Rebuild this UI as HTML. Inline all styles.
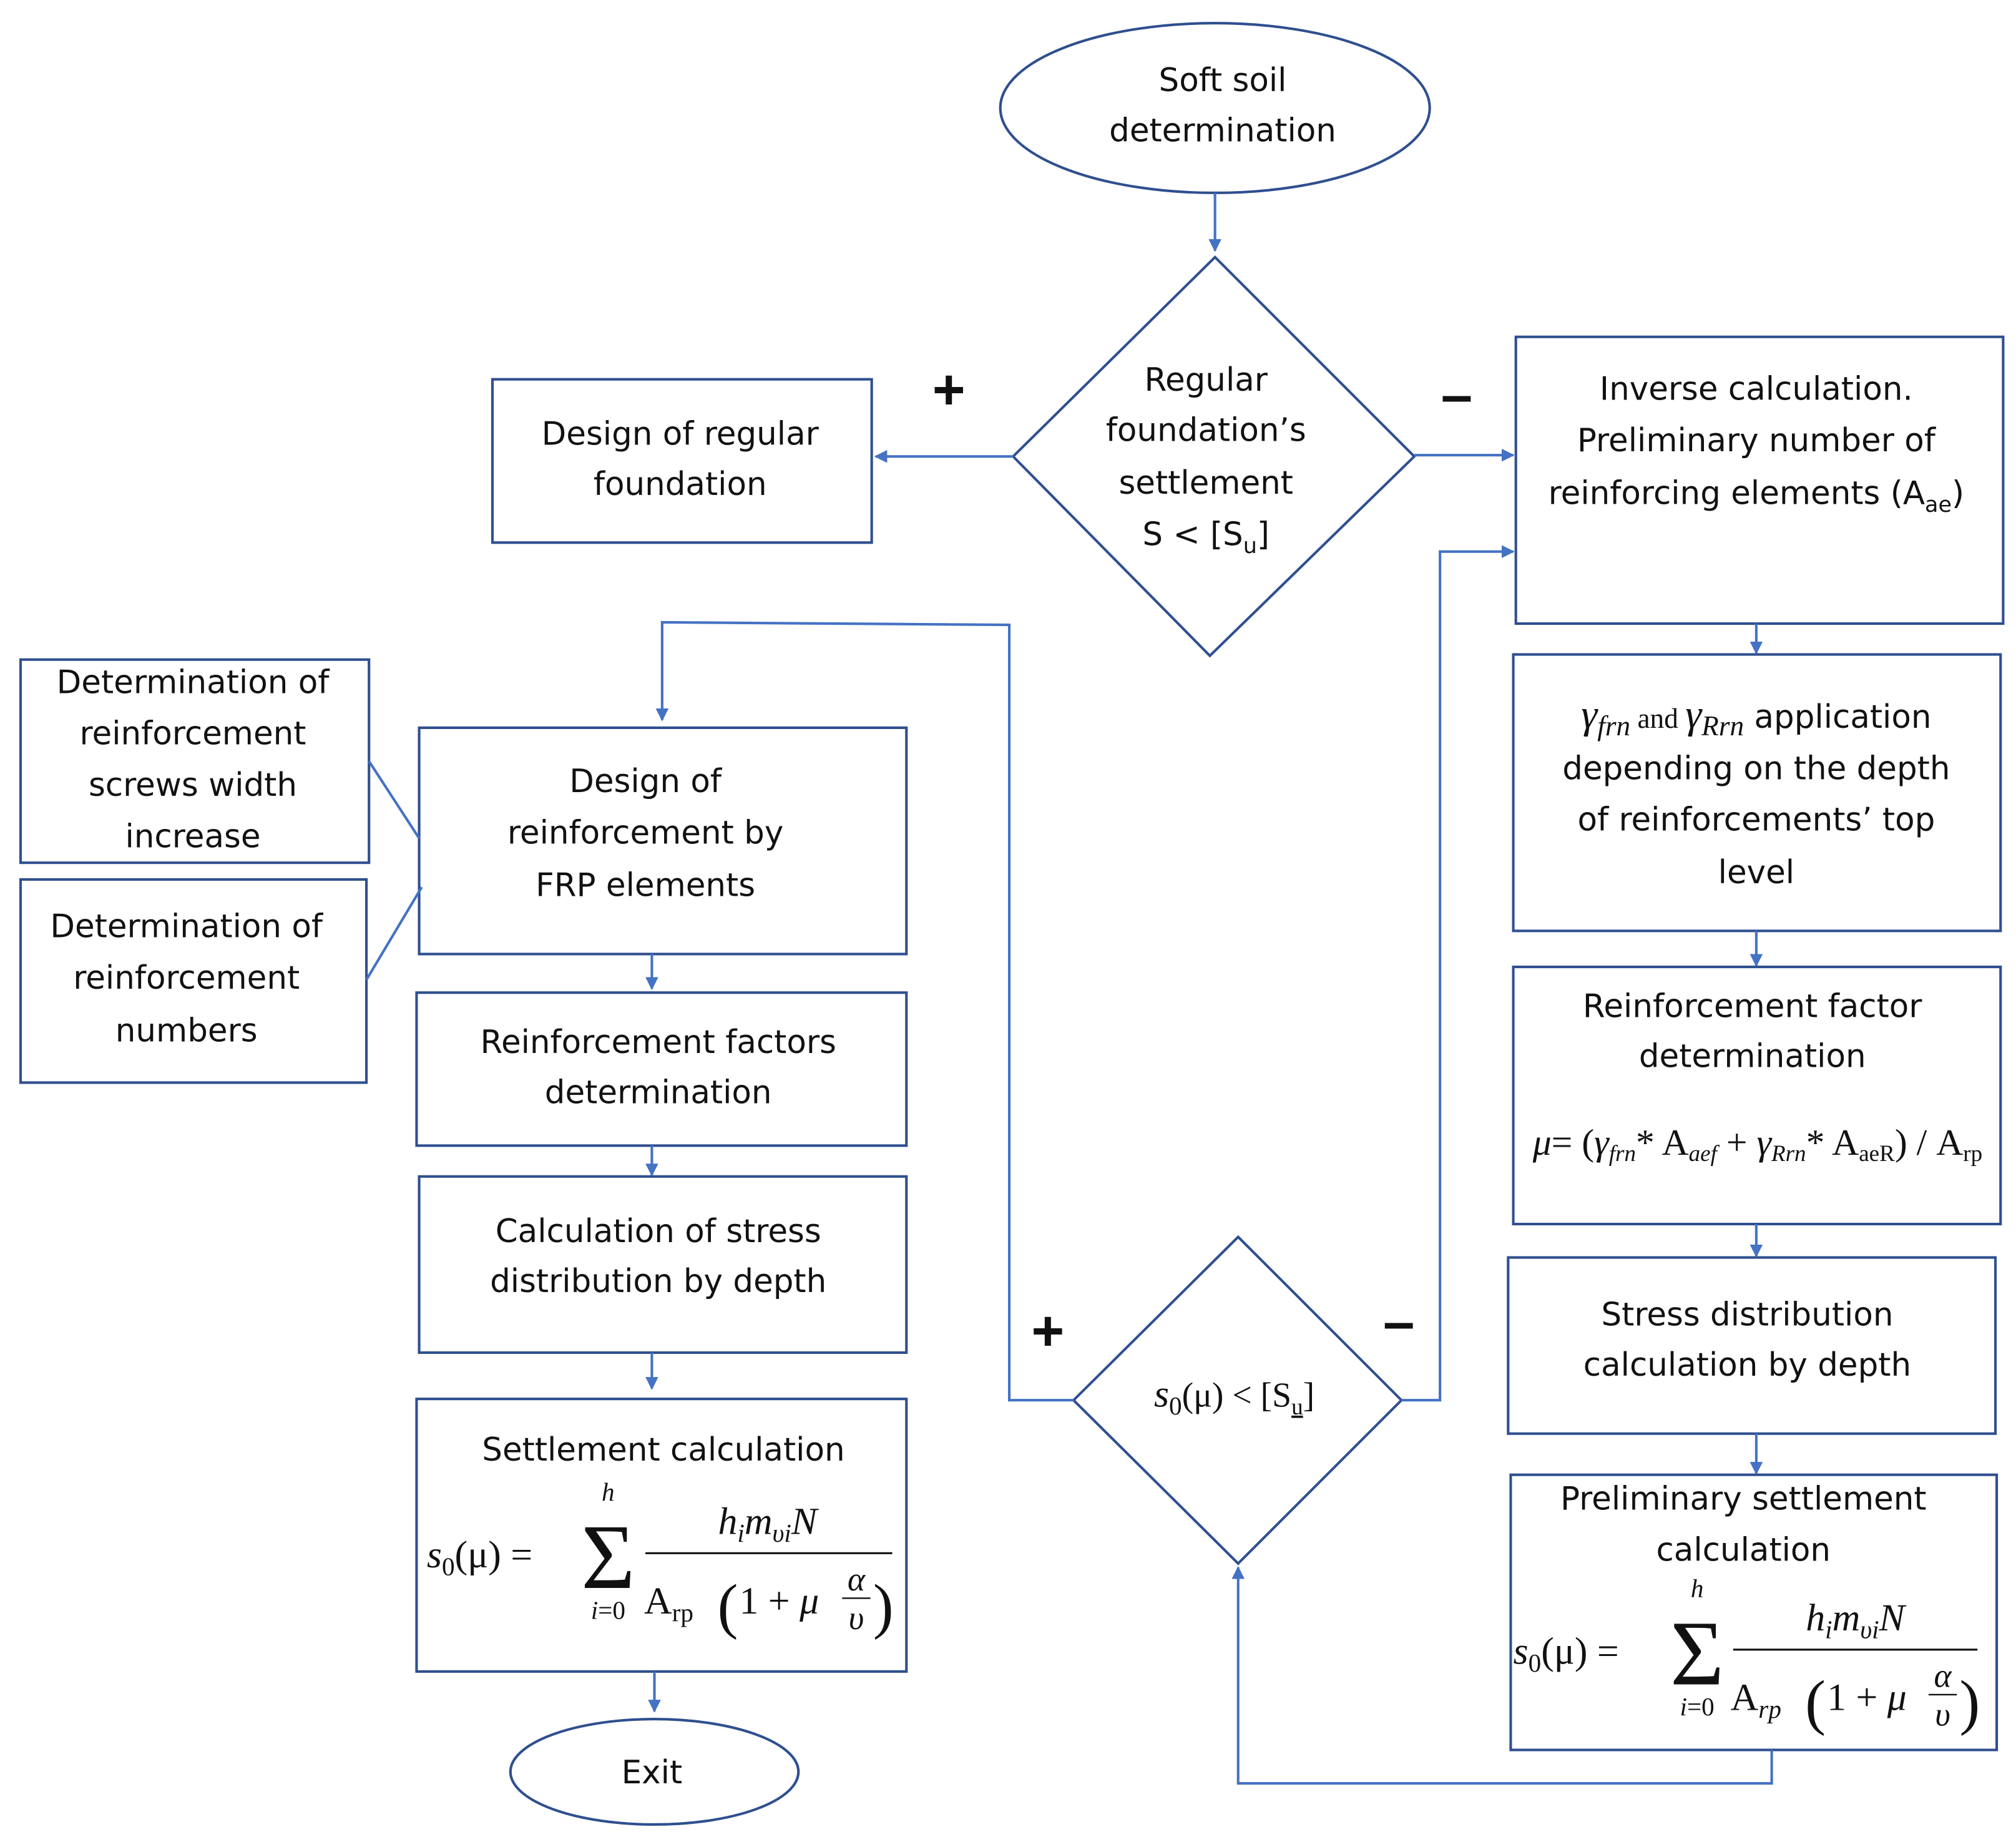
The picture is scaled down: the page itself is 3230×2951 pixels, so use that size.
<!DOCTYPE html>
<html><head><meta charset="utf-8"><style>
html,body{margin:0;padding:0;background:#fff}
svg{display:block;font-size:25px}
text{font-family:"DejaVu Sans","Liberation Sans",sans-serif;fill:#111;text-anchor:middle}
.m{font-family:"Liberation Serif",serif}
.i{font-style:italic}
.s{text-anchor:start}
.pm{font-family:"Liberation Sans",sans-serif;font-size:44px;font-weight:bold}
</style></head><body>
<svg width="3230" height="2951" viewBox="0 0 1568 1432.6" preserveAspectRatio="none" xmlns="http://www.w3.org/2000/svg">
<defs><marker id="a" markerWidth="10" markerHeight="10" refX="9" refY="5" orient="auto" markerUnits="userSpaceOnUse"><path d="M0,0 L10,5 L0,10 z" fill="#4472C4"/></marker></defs>
<g fill="none" stroke="#2F4F8F" stroke-width="2">
<ellipse cx="945" cy="84" rx="167" ry="66"/>
<polygon points="945,200 1100,355 941,510 788,355"/>
<rect x="383" y="295" width="295" height="127"/>
<rect x="1179" y="262" width="379" height="223"/>
<rect x="1177" y="509" width="379" height="215"/>
<rect x="1177" y="752" width="379" height="200"/>
<rect x="1173" y="978" width="379" height="137"/>
<rect x="1175" y="1147" width="378" height="214"/>
<polygon points="963,962 1090,1089 963,1216 835,1089"/>
<rect x="326" y="566" width="379" height="176"/>
<rect x="324" y="772" width="381" height="119"/>
<rect x="326" y="915" width="379" height="137"/>
<rect x="324" y="1088" width="381" height="212"/>
<ellipse cx="509" cy="1378" rx="112" ry="41"/>
<rect x="16" y="513" width="271" height="158"/>
<rect x="16" y="684" width="269" height="158"/>
</g>
<g fill="none" stroke="#4472C4" stroke-width="2">
<line x1="945" y1="150" x2="945" y2="195" marker-end="url(#a)"/>
<line x1="788" y1="355" x2="681" y2="355" marker-end="url(#a)"/>
<line x1="1100" y1="354" x2="1177" y2="354" marker-end="url(#a)"/>
<line x1="1366" y1="485" x2="1366" y2="508" marker-end="url(#a)"/>
<line x1="1366" y1="724" x2="1366" y2="751" marker-end="url(#a)"/>
<line x1="1366" y1="952" x2="1366" y2="977" marker-end="url(#a)"/>
<line x1="1366" y1="1115" x2="1366" y2="1146" marker-end="url(#a)"/>
<polyline points="1378,1361 1378,1387 963,1387 963,1219" marker-end="url(#a)"/>
<polyline points="1090,1089 1120,1089 1120,429 1177,429" marker-end="url(#a)"/>
<polyline points="835,1089 785,1089 785,486 515,484 515,560" marker-end="url(#a)"/>
<line x1="507" y1="742" x2="507" y2="769" marker-end="url(#a)"/>
<line x1="507" y1="891" x2="507" y2="914" marker-end="url(#a)"/>
<line x1="507" y1="1052" x2="507" y2="1080" marker-end="url(#a)"/>
<line x1="509" y1="1300" x2="509" y2="1331" marker-end="url(#a)"/>
<line x1="287" y1="592" x2="326" y2="652"/>
<line x1="285" y1="762" x2="328" y2="690"/>
</g>
<text x="951" y="71">Soft soil</text>
<text x="951" y="110">determination</text>
<text x="938" y="304">Regular</text>
<text x="938" y="343">foundation’s</text>
<text x="938" y="384">settlement</text>
<text x="938" y="424">S &lt; [S<tspan font-size="17" dy="6">u</tspan><tspan dy="-6">]</tspan></text>
<text x="738" y="318" class="pm">+</text>
<text x="1133" y="322" class="pm">–</text>
<text x="529" y="346">Design of regular</text>
<text x="529" y="385">foundation</text>
<text x="1366" y="311">Inverse calculation.</text>
<text x="1366" y="351">Preliminary number of</text>
<text x="1366" y="392">reinforcing elements (A<tspan font-size="17" dy="6">ae</tspan><tspan dy="-6">)</tspan></text>
<text x="1366" y="566"><tspan class="m i" font-size="32">γ</tspan><tspan class="m i" font-size="22" dy="6">frn</tspan><tspan dy="-6" font-size="22" class="m"> and </tspan><tspan class="m i" font-size="32">γ</tspan><tspan class="m i" font-size="22" dy="6">Rrn</tspan><tspan dy="-6"> application</tspan></text>
<text x="1366" y="606">depending on the depth</text>
<text x="1366" y="646">of reinforcements’ top</text>
<text x="1366" y="687">level</text>
<text x="1363" y="791">Reinforcement factor</text>
<text x="1363" y="830">determination</text>
<text x="1367" y="898" class="m" font-size="29"><tspan class="i">μ</tspan>= (<tspan class="i">γ</tspan><tspan class="i" font-size="18" dy="5">frn</tspan><tspan dy="-5">* A</tspan><tspan font-size="18" dy="5" class="i">aef</tspan><tspan dy="-5"> + </tspan><tspan class="i">γ</tspan><tspan class="i" font-size="18" dy="5">Rrn</tspan><tspan dy="-5">* A</tspan><tspan font-size="18" dy="5">aeR</tspan><tspan dy="-5">) / A</tspan><tspan font-size="18" dy="5">rp</tspan></text>
<text x="1359" y="1031">Stress distribution</text>
<text x="1359" y="1070">calculation by depth</text>
<text x="1356" y="1174">Preliminary settlement</text>
<text x="1356" y="1214">calculation</text>

<text x="1177" y="1294" class="m s" font-size="30"><tspan class="i">s</tspan><tspan font-size="20" dy="6">0</tspan><tspan dy="-6">(μ) =</tspan></text>
<text x="1320" y="1310" class="m" font-size="72">Σ</text>
<text x="1320" y="1242" class="m i" font-size="20">h</text>
<text x="1320" y="1334" class="m" font-size="20"><tspan class="i">i</tspan>=0</text>
<text x="1443" y="1268" class="m i" font-size="30">h<tspan font-size="20" dy="6">i</tspan><tspan dy="-6">m</tspan><tspan font-size="20" dy="6">υi</tspan><tspan dy="-6">N</tspan></text>
<line x1="1348" y1="1283" x2="1538" y2="1283" stroke="#111" stroke-width="1.5"/>
<text x="1346" y="1330" class="m s" font-size="30">A<tspan class="i" font-size="20" dy="6">rp</tspan></text>
<text x="1404" y="1340" class="m s" font-size="48">(</text>
<text x="1421" y="1330" class="m s" font-size="30">1 + <tspan class="i">μ</tspan></text>
<text x="1511" y="1312" class="m i" font-size="26">α</text>
<line x1="1500" y1="1318" x2="1522" y2="1318" stroke="#111" stroke-width="1.2"/>
<text x="1511" y="1342" class="m i" font-size="26">υ</text>
<text x="1524" y="1340" class="m s" font-size="48">)</text>

<text x="960" y="1094" class="m" font-size="27"><tspan class="i" font-size="30">s</tspan><tspan font-size="20" dy="6">0</tspan><tspan dy="-6">(μ) &lt; [S</tspan><tspan font-size="18" dy="6" text-decoration="underline">u</tspan><tspan dy="-6">]</tspan></text>
<text x="815" y="1050" class="pm">+</text>
<text x="1088" y="1043" class="pm">–</text>
<text x="502" y="616">Design of</text>
<text x="502" y="656">reinforcement by</text>
<text x="502" y="697">FRP elements</text>
<text x="512" y="819">Reinforcement factors</text>
<text x="512" y="858">determination</text>
<text x="512" y="966">Calculation of stress</text>
<text x="512" y="1005">distribution by depth</text>
<text x="516" y="1136">Settlement calculation</text>

<text x="332" y="1219" class="m s" font-size="30"><tspan class="i">s</tspan><tspan font-size="20" dy="6">0</tspan><tspan dy="-6">(μ) =</tspan></text>
<text x="473" y="1235" class="m" font-size="72">Σ</text>
<text x="473" y="1167" class="m i" font-size="20">h</text>
<text x="473" y="1259" class="m" font-size="20"><tspan class="i">i</tspan>=0</text>
<text x="597" y="1193" class="m i" font-size="30">h<tspan font-size="20" dy="6">i</tspan><tspan dy="-6">m</tspan><tspan font-size="20" dy="6">υi</tspan><tspan dy="-6">N</tspan></text>
<line x1="502" y1="1208" x2="694" y2="1208" stroke="#111" stroke-width="1.5"/>
<text x="501" y="1255" class="m s" font-size="30">A<tspan font-size="20" dy="6">rp</tspan></text>
<text x="558" y="1265" class="m s" font-size="48">(</text>
<text x="575" y="1255" class="m s" font-size="30">1 + <tspan class="i">μ</tspan></text>
<text x="666" y="1237" class="m i" font-size="26">α</text>
<line x1="655" y1="1243" x2="677" y2="1243" stroke="#111" stroke-width="1.2"/>
<text x="666" y="1267" class="m i" font-size="26">υ</text>
<text x="679" y="1265" class="m s" font-size="48">)</text>

<text x="507" y="1387">Exit</text>
<text x="150" y="539">Determination of</text>
<text x="150" y="579">reinforcement</text>
<text x="150" y="619">screws width</text>
<text x="150" y="659">increase</text>
<text x="145" y="729">Determination of</text>
<text x="145" y="769">reinforcement</text>
<text x="145" y="810">numbers</text>
</svg>
</body></html>
